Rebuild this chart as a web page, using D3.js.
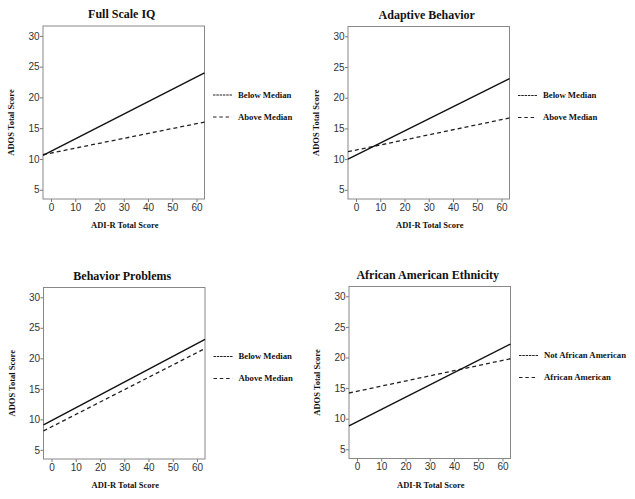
<!DOCTYPE html>
<html>
<head>
<meta charset="utf-8">
<script src="https://cdn.jsdelivr.net/npm/d3@7"></script>
<style>
  html, body { margin: 0; padding: 0; background: #fff; }
  svg { display: block; }
</style>
</head>
<body>
<svg id="chart" width="635" height="499"></svg>
<script>
// ---- Data ----
const titles = ["Full Scale IQ", "Adaptive Behavior", "Behavior Problems", "African American Ethnicity"];
const solidLabels = ["Below Median", "Below Median", "Below Median", "Not African American"];
const dashedLabels = ["Above Median", "Above Median", "Above Median", "African American"];
const xEnds = [-3.3, 63.3];                       // ADI-R Total Score at line ends
const solidValues = [[10.6, 24.0], [10.0, 23.1], [9.1, 23.1], [8.85, 22.2]];   // ADOS at ends
const dashedValues = [[10.7, 16.0], [11.2, 16.7], [8.1, 21.6], [14.2, 19.8]];
const xTicks = [0, 10, 20, 30, 40, 50, 60];
const yTicks = [5, 10, 15, 20, 25, 30];
const xLabel = "ADI-R Total Score";
const yLabel = "ADOS Total Score";

// ---- Layout ----
const boxes = [
  { x: 43, y: 26, w: 161.5, h: 173 },
  { x: 348, y: 26.5, w: 161.5, h: 172.5 },
  { x: 43.5, y: 287.5, w: 161.5, h: 171.5 },
  { x: 349, y: 286.5, w: 161.5, h: 172 }
];
const serif = "'Liberation Serif', 'Times New Roman', serif";
const sans = "'Liberation Sans', Arial, sans-serif";

const svg = d3.select("#chart");

titles.forEach((title, i) => {
  const b = boxes[i];
  const g = svg.append("g").attr("transform", `translate(${b.x},${b.y})`);
  const x = d3.scaleLinear().domain([-3.3, 63.3]).range([0, b.w]);
  const y = d3.scaleLinear().domain([3.5, 31.6]).range([b.h, 0]);

  // axes
  const xa = g.append("g").attr("transform", `translate(0,${b.h})`)
    .call(d3.axisBottom(x).tickValues(xTicks).tickSize(3).tickSizeOuter(0).tickPadding(1.5));
  const ya = g.append("g")
    .call(d3.axisLeft(y).tickValues(yTicks).tickSize(3).tickSizeOuter(0).tickPadding(0.5));
  [xa, ya].forEach(a => {
    a.select(".domain").remove();
    a.selectAll(".tick line").attr("stroke", "#777");
    a.selectAll(".tick text").attr("fill", "#333").style("font-family", sans).style("font-size", "10px");
  });

  // frame
  g.append("rect").attr("x", 0).attr("y", 0).attr("width", b.w).attr("height", b.h)
    .attr("fill", "none").attr("stroke", "#888").attr("stroke-width", 1);

  // lines
  const line = d3.line().x(d => x(d[0])).y(d => y(d[1]));
  const sPts = xEnds.map((xv, k) => [xv, solidValues[i][k]]);
  const dPts = xEnds.map((xv, k) => [xv, dashedValues[i][k]]);
  g.append("path").attr("d", line(dPts)).attr("fill", "none")
    .attr("stroke", "#222").attr("stroke-width", 1.3).attr("stroke-dasharray", "4,3");
  g.append("path").attr("d", line(sPts)).attr("fill", "none")
    .attr("stroke", "#111").attr("stroke-width", 1.4);

  // title
  g.append("text").attr("x", b.w / 2 - 2).attr("y", -8).attr("text-anchor", "middle")
    .style("font-family", serif).style("font-weight", "bold").style("font-size", "12px")
    .attr("fill", "#111").text(title);

  // x label
  g.append("text").attr("x", b.w / 2 + 1).attr("y", b.h + 29).attr("text-anchor", "middle")
    .style("font-family", serif).style("font-weight", "bold").style("font-size", "8.5px")
    .attr("fill", "#111").text(xLabel);

  // y label
  g.append("text").attr("transform", `translate(-29,${b.h / 2 + 10}) rotate(-90)`)
    .attr("text-anchor", "middle")
    .style("font-family", serif).style("font-weight", "bold").style("font-size", "8.5px")
    .attr("fill", "#111").text(yLabel);

  // legend
  const lx = b.w + 8.5;
  const leg = [
    { label: solidLabels[i], dy: 69, dash: "2.5,0.8" },
    { label: dashedLabels[i], dy: 91, dash: "3.5,2.8" }
  ];
  leg.forEach(L => {
    g.append("line").attr("x1", lx).attr("x2", lx + 19).attr("y1", L.dy).attr("y2", L.dy)
      .attr("stroke", "#222").attr("stroke-width", 1).attr("stroke-dasharray", L.dash);
    g.append("text").attr("x", lx + 25).attr("y", L.dy).attr("dy", "0.32em")
      .style("font-family", serif).style("font-weight", "bold").style("font-size", "8.7px")
      .attr("fill", "#111").text(L.label);
  });
});
</script>
</body>
</html>
